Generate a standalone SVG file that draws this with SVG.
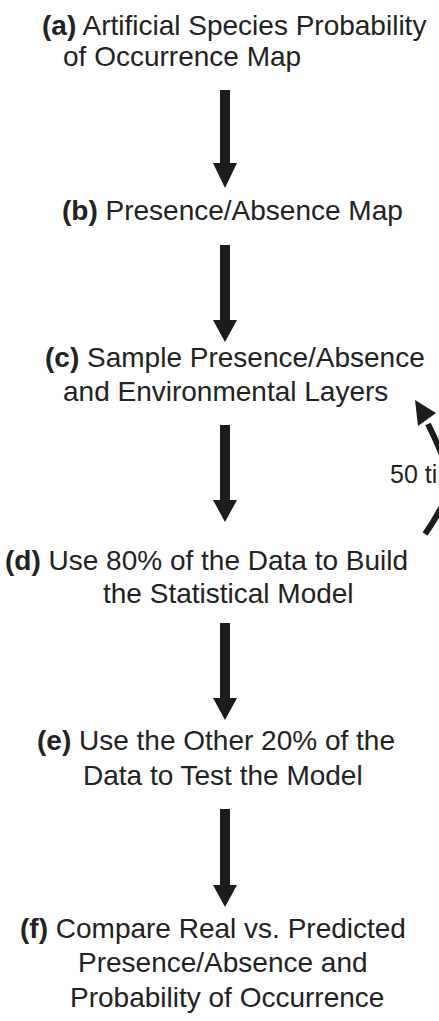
<svg xmlns="http://www.w3.org/2000/svg" width="439" height="1021" viewBox="0 0 439 1021">
<style>
text{font-family:"Liberation Sans",Arial,Helvetica,sans-serif;font-size:28px;fill:#222}
.b{font-weight:bold}
.arr{fill:#1c1c1e}
.lbl{font-size:25px}
</style>
<rect width="439" height="1021" fill="#fff"/>
<g id="node-a"><text x="42" y="35"><tspan class="b">(a)</tspan> Artificial Species Probability</text><text x="63" y="66">of Occurrence Map</text></g>
<g id="node-b"><text x="62" y="220"><tspan class="b">(b)</tspan> Presence/Absence Map</text></g>
<g id="node-c"><text x="45" y="367"><tspan class="b">(c)</tspan> Sample Presence/Absence</text><text x="63" y="401">and Environmental Layers</text></g>
<g id="node-d"><text x="5" y="570"><tspan class="b">(d)</tspan> Use 80% of the Data to Build</text><text x="103" y="603">the Statistical Model</text></g>
<g id="node-e"><text x="37" y="750"><tspan class="b">(e)</tspan> Use the Other 20% of the</text><text x="83" y="785">Data to Test the Model</text></g>
<g id="node-f"><text x="20" y="938"><tspan class="b">(f)</tspan> Compare Real vs. Predicted</text><text x="78" y="972">Presence/Absence and</text><text x="70" y="1007">Probability of Occurrence</text></g>
<g id="connectors">
<path class="arr" d="M220,90H230V163H237L225,188L213,163H220Z"/>
<path class="arr" d="M220,245H230V320H237L225,342L213,320H220Z"/>
<path class="arr" d="M220,425H230V500H237L225,522L213,500H220Z"/>
<path class="arr" d="M220,623H230V698H237L225,720L213,698H220Z"/>
<path class="arr" d="M220,809H230V885H237L225,907L213,885H220Z"/>
<path d="M442,455 Q436,440 428,424" fill="none" stroke="#1c1c1e" stroke-width="6"/>
<path class="arr" d="M415,400 L436,413 L418,426 Z"/>
<path d="M425,534 Q433,523 441,508" fill="none" stroke="#1c1c1e" stroke-width="6"/>
<text class="lbl" x="390" y="483">50 ti</text>
</g>
</svg>
